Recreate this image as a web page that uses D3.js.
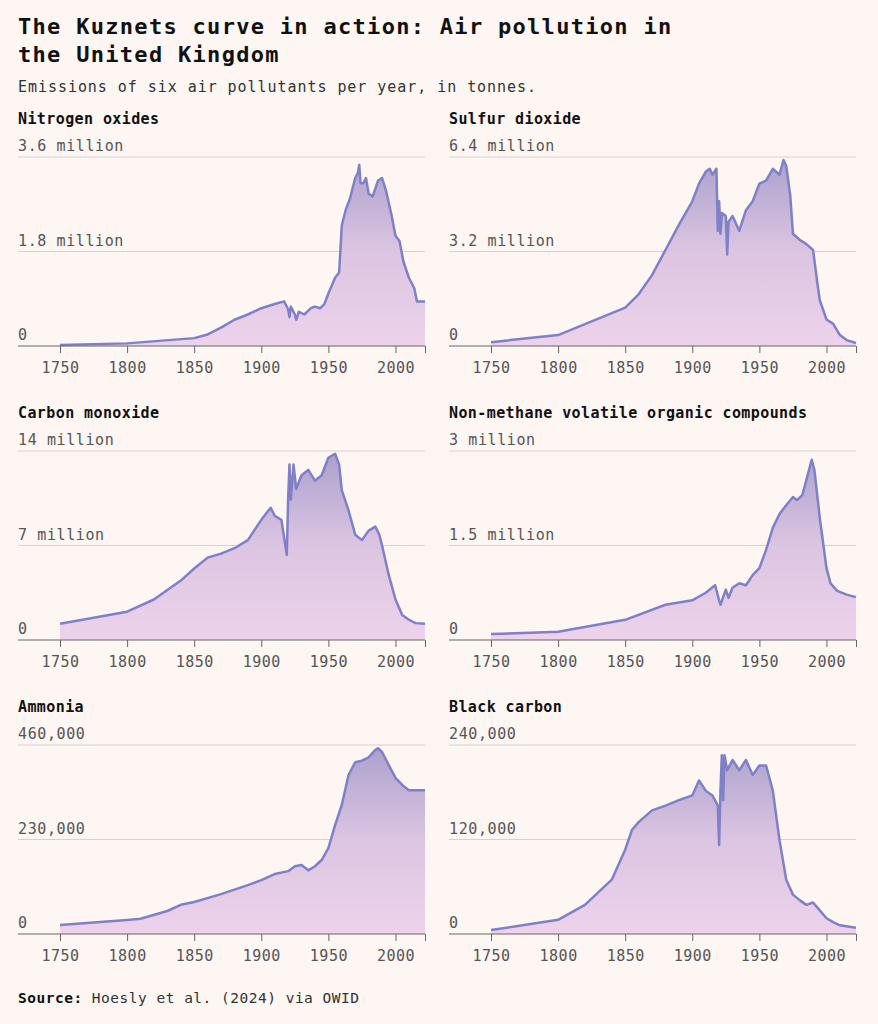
<!DOCTYPE html><html><head><meta charset="utf-8"><script src="https://cdn.jsdelivr.net/npm/d3@7"></script>
<style>body{margin:0;background:#fdf6f3;}svg{display:block}text{font-family:"DejaVu Sans Mono",monospace}</style></head><body><svg id="c" width="878" height="1024"></svg>
<script>
const titles=["Nitrogen oxides","Sulfur dioxide","Carbon monoxide","Non-methane volatile organic compounds","Ammonia","Black carbon"];
const maxes=[3.6e6,6.4e6,14e6,3e6,460000,240000];
const tickLabels=[["0","1.8 million","3.6 million"],["0","3.2 million","6.4 million"],["0","7 million","14 million"],["0","1.5 million","3 million"],["0","230,000","460,000"],["0","120,000","240,000"]];
const xTicks=[1750,1800,1850,1900,1950,2000];
const noxYears=[1750,1800,1850,1860,1870,1880,1890,1900,1910,1917,1920,1921,1922,1925,1926,1928,1932,1937,1940,1944,1947,1950,1955,1958,1960,1963,1966,1970,1972,1973,1974,1976,1978,1980,1983,1987,1990,1993,1997,2000,2003,2006,2010,2014,2016,2022];
const noxVals=[0.02,0.05,0.15,0.22,0.35,0.5,0.6,0.72,0.8,0.85,0.7,0.55,0.75,0.6,0.5,0.65,0.6,0.72,0.75,0.72,0.8,1.0,1.3,1.4,2.3,2.6,2.8,3.2,3.3,3.45,3.1,3.1,3.2,2.9,2.85,3.15,3.2,2.95,2.5,2.1,2.0,1.6,1.3,1.1,0.85,0.85].map(v=>v*1e6);
const so2Years=[1750,1800,1850,1860,1870,1880,1890,1900,1905,1910,1913,1915,1918,1919,1920,1921,1922,1925,1926,1927,1930,1935,1940,1945,1950,1955,1960,1965,1968,1970,1973,1975,1980,1985,1990,1993,1995,2000,2005,2010,2015,2022];
const so2Vals=[0.13,0.37,1.3,1.75,2.4,3.25,4.1,4.9,5.5,5.9,6.0,5.8,6.0,3.9,4.9,3.8,4.5,4.4,3.1,4.2,4.4,3.9,4.6,4.9,5.5,5.6,6.0,5.8,6.3,6.1,5.1,3.8,3.6,3.45,3.25,2.2,1.55,0.9,0.75,0.37,0.2,0.1].map(v=>v*1e6);
const coYears=[1750,1800,1820,1840,1850,1860,1870,1880,1890,1900,1907,1910,1915,1919,1920,1921,1922,1924,1926,1930,1935,1940,1945,1950,1955,1958,1960,1965,1970,1975,1980,1985,1988,1990,1995,2000,2005,2010,2015,2022];
const coVals=[1.2,2.1,3.0,4.4,5.3,6.1,6.4,6.8,7.4,8.9,9.8,9.2,8.9,6.3,10.4,13,10.4,13,11.2,12.2,12.6,11.8,12.2,13.5,13.8,13,11.1,9.6,7.8,7.4,8.1,8.4,7.8,7.0,4.8,3.0,1.85,1.5,1.25,1.2].map(v=>v*1e6);
const vocYears=[1750,1800,1850,1880,1900,1910,1917,1920,1921,1925,1927,1930,1935,1940,1945,1950,1955,1960,1965,1970,1975,1978,1982,1987,1989,1991,1995,2000,2003,2008,2015,2022];
const vocVals=[0.095,0.13,0.32,0.56,0.63,0.75,0.87,0.63,0.56,0.8,0.67,0.83,0.9,0.87,1.03,1.14,1.43,1.78,2.0,2.14,2.27,2.22,2.3,2.7,2.86,2.7,1.94,1.14,0.9,0.78,0.72,0.68].map(v=>v*1e6);
const nh3Years=[1750,1800,1810,1830,1840,1850,1870,1890,1900,1910,1920,1925,1930,1935,1940,1945,1950,1955,1960,1965,1970,1975,1980,1985,1987,1990,1995,2000,2005,2010,2015,2022];
const nh3Vals=[22,34,37,56,71,78,97,119,131,146,153,165,168,155,165,180,209,265,314,387,418,422,430,448,452,443,411,380,363,350,350,350].map(v=>v*1000);
const bcYears=[1750,1800,1820,1840,1850,1855,1860,1870,1880,1890,1900,1905,1910,1915,1919,1920,1921,1922,1923,1924,1926,1930,1935,1940,1945,1950,1955,1960,1965,1970,1975,1980,1985,1990,1995,2000,2005,2010,2022];
const bcVals=[5,18,37,69,107,132,142,157,163,170,176,195,182,176,163,113,182,227,170,227,208,221,208,221,202,214,214,182,119,69,50,43,37,40,30,20,15,11,8].map(v=>v*1000);
const seriesYears=[noxYears,so2Years,coYears,vocYears,nh3Years,bcYears];
const seriesVals=[noxVals,so2Vals,coVals,vocVals,nh3Vals,bcVals];

const svg=d3.select("#c");
svg.append("text").attr("x",18).attr("y",34).attr("font-size",22).attr("letter-spacing",1.3).attr("font-weight","bold").attr("fill","#111").text("The Kuznets curve in action: Air pollution in");
svg.append("text").attr("x",18).attr("y",62).attr("font-size",22).attr("letter-spacing",1.3).attr("font-weight","bold").attr("fill","#111").text("the United Kingdom");
svg.append("text").attr("x",18).attr("y",92).attr("font-size",15).attr("letter-spacing",0.95).attr("fill","#333").text("Emissions of six air pollutants per year, in tonnes.");
const src=svg.append("text").attr("x",18).attr("y",1003).attr("font-size",14.5).attr("letter-spacing",0.5).attr("fill","#333");
src.append("tspan").attr("font-weight","bold").attr("fill","#111").text("Source:");
src.append("tspan").text(" Hoesly et al. (2024) via OWID");

const defs=svg.append("defs");
titles.forEach((t,i)=>{
  const col=i%2,row=Math.floor(i/2);
  const left=col?449:18,right=col?856:425,plotL=col?491:60;
  const top=157+row*294,bot=346+row*294;
  const x=d3.scaleLinear().domain([1750,2022]).range([plotL,right]);
  const y=d3.scaleLinear().domain([0,maxes[i]]).range([bot,top]);
  const g=svg.append("g");
  g.append("text").attr("x",left).attr("y",top-33).attr("font-size",15).attr("letter-spacing",0.4).attr("font-weight","bold").attr("fill","#111").text(t);
  [0,maxes[i]/2,maxes[i]].forEach((v,k)=>{
    if(k>0)g.append("line").attr("x1",left).attr("x2",right).attr("y1",y(v)).attr("y2",y(v)).attr("stroke","#d8d2cf").attr("stroke-width",1);
    g.append("text").attr("x",left).attr("y",y(v)-6).attr("font-size",15).attr("letter-spacing",0.6).attr("fill","#555").text(tickLabels[i][k]);
  });
  const data=seriesYears[i].map((yr,k)=>[yr,seriesVals[i][k]]);
  const gr=defs.append("linearGradient").attr("id","gr"+i).attr("gradientUnits","userSpaceOnUse").attr("x1",0).attr("x2",0).attr("y1",top).attr("y2",bot);
  gr.append("stop").attr("offset","0%").attr("stop-color","#aaa0cc");
  gr.append("stop").attr("offset","50%").attr("stop-color","#dcc5e2");
  gr.append("stop").attr("offset","100%").attr("stop-color","#edd2ea");
  g.append("path").datum(data).attr("d",d3.area().x(d=>x(d[0])).y0(bot).y1(d=>y(d[1]))).attr("fill","url(#gr"+i+")");
  g.append("path").datum(data).attr("d",d3.line().x(d=>x(d[0])).y(d=>y(d[1]))).attr("fill","none").attr("stroke","#7f80c8").attr("stroke-width",2.5).attr("stroke-linejoin","round");
  const ax=g.append("g").attr("transform",`translate(0,${bot})`).call(d3.axisBottom(x).tickValues(xTicks.concat([2022])).tickSize(7).tickFormat(d=>d===2022?"":d));
  ax.select(".domain").remove();
  ax.selectAll("line").attr("stroke","#666");
  ax.selectAll("text").attr("font-size",15).attr("fill","#555").attr("dy","1.1em").attr("letter-spacing",0.5).attr("font-family","DejaVu Sans Mono");
  g.append("line").attr("x1",left).attr("x2",right).attr("y1",bot).attr("y2",bot).attr("stroke","#666").attr("stroke-width",1.2);
});
</script></body></html>
